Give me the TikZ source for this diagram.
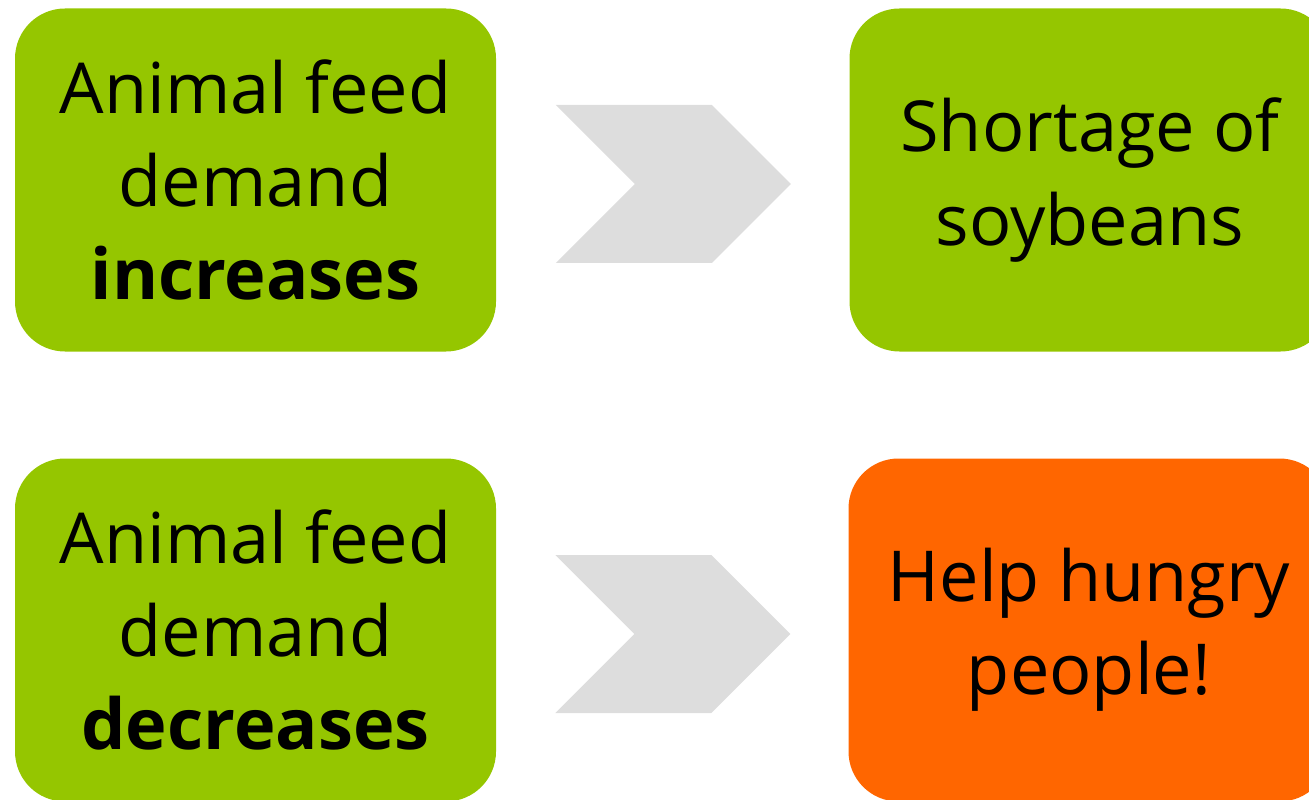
\documentclass[tikz,border=0pt]{standalone}
\usepackage{fontspec}
\setmainfont{Open Sans}
\usepackage{tikz}
\usetikzlibrary{positioning,calc}
\usepackage{xcolor}
\definecolor{feedgreen}{RGB}{149,198,0}
\definecolor{helporange}{RGB}{255,102,0}
\definecolor{chevgray}{RGB}{221,221,221}
\tikzset{
  stepbox/.style={rectangle, rounded corners=1cm, minimum width=9.62cm, minimum height=6.86cm, text centered, align=center, fill=feedgreen, font=\fontsize{40}{53}\selectfont, inner sep=0pt},
  chevron/.style={fill=chevgray}
}

\begin{document}
\begin{tikzpicture}
\useasboundingbox (0,0) rectangle (26.18,15.98);
\clip (0,0) rectangle (26.18,15.98);
% Top row
\node[stepbox] (incr) at (5.11,12.38) {Animal feed\\demand\\\textbf{increases}};
\node[stepbox] (short) at (21.8,12.38) {Shortage of\\soybeans};

% Bottom row
\node[stepbox] (decr) at (5.11,3.38) {Animal feed\\demand\\\textbf{decreases}};
\node[stepbox, fill=helporange] (help) at (21.78,3.38) {Help hungry\\people!};

% Chevrons between boxes
\foreach \a/\b in {incr/short, decr/help}{
  \coordinate (m) at ($(\a.east)!0.5!(\b.west)+(0,-0.08)$);
  \fill[chevron] ($(m)+(-2.34,1.58)$) -- ++(3.12,0) -- ++(1.58,-1.58) -- ++(-1.58,-1.58) -- ++(-3.12,0) -- ++(1.58,1.58) -- cycle;
}
\end{tikzpicture}
\end{document}
